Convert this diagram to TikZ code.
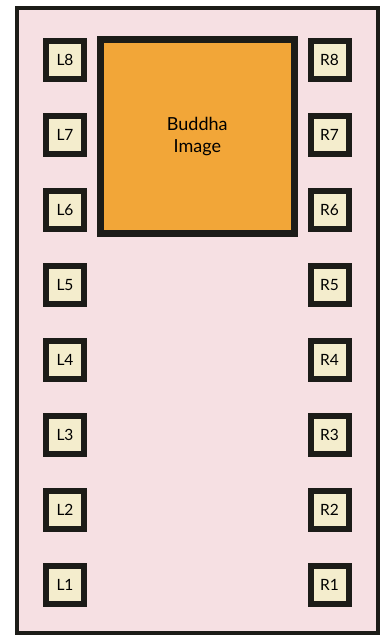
\documentclass[tikz,border=0pt]{standalone}
\usepackage{fontspec}
\setmainfont{Lato}
\usetikzlibrary{positioning}
\definecolor{TemploPiso}{RGB}{246,224,227}
\definecolor{TemploBorda}{RGB}{28,28,24}
\definecolor{TemploImagem}{RGB}{242,166,56}
\definecolor{TemploAssento}{RGB}{244,237,205}
\tikzset{
  salao/.style={draw=TemploBorda, fill=TemploPiso, line width=4pt},
  assento/.style={draw=TemploBorda, fill=TemploAssento, line width=6pt,
                  minimum size=38pt, inner sep=0pt, font=\fontsize{15.5}{18}\selectfont},
  imagem/.style={draw=TemploBorda, fill=TemploImagem, line width=7pt,
                 minimum size=193.7pt, inner sep=0pt, align=center,
                 font=\fontsize{18}{21.7}\selectfont},
}

\begin{document}
\begin{tikzpicture}[x=1pt, y=-1pt]
  \useasboundingbox[fill=white] (0,0) rectangle (384,639);

  % salao
  \draw[salao] (17,8) rectangle (378,633);

  % imagem central
  \node[imagem] (buda) at (197.3,136.3) {Buddha\\Image};

  % fileiras de assentos, esquerda e direita
  \foreach \i in {1,...,8}{
    \node[assento] (L\i) at (65,{60+(8-\i)*75}) {L\i};
    \node[assento] (R\i) at (329.5,{60+(8-\i)*75}) {R\i};
  }
\end{tikzpicture}
\end{document}
